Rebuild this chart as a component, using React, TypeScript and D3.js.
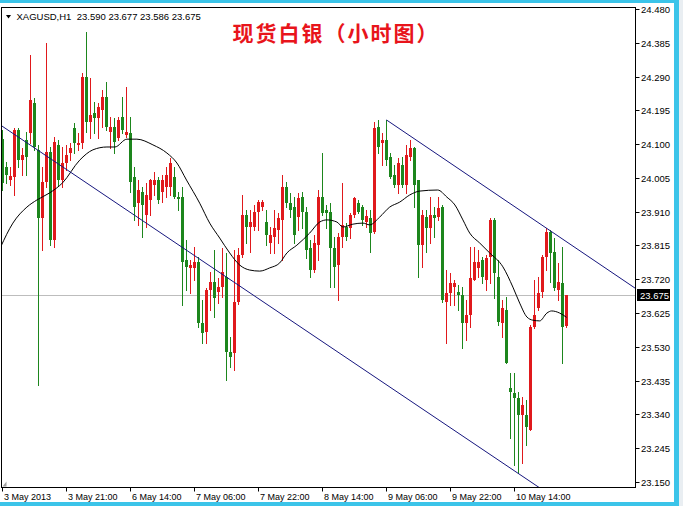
import React from "react";
import * as d3 from "d3";

const W = 683;
const H = 506;

// XAGUSD H1 candles (bar index 0 = 3 May 2013 05:00)
const barOpen = [
  24.114, 24.036, 23.999, 24.008, 24.140, 24.055, 24.112, 24.131, 24.216, 24.083,
  23.892, 23.993, 24.078, 23.830, 24.098, 23.999, 24.047, 24.075, 24.145, 24.098,
  24.103, 24.289, 24.162, 24.188, 24.173, 24.196, 24.233, 24.134, 24.148, 24.117,
  24.176, 24.126, 24.131, 24.008, 23.934, 23.965, 23.901, 23.943, 23.985, 23.999,
  23.965, 23.979, 23.979, 24.008, 23.951, 23.951, 23.774, 23.752, 23.752, 23.769,
  23.597, 23.572, 23.690, 23.712, 23.684, 23.698, 23.726, 23.515, 23.513, 23.656,
  23.788, 23.901, 23.867, 23.867, 23.909, 23.923, 23.881, 23.822, 23.839, 23.859,
  23.887, 23.979, 23.934, 23.923, 23.895, 23.951, 23.909, 23.808, 23.746, 23.816,
  23.951, 23.915, 23.909, 23.808, 23.760, 23.839, 23.867, 23.864, 23.901, 23.934,
  23.923, 23.881, 23.892, 23.853, 24.148, 24.103, 24.112, 24.064, 24.013, 23.985,
  24.041, 23.985, 24.064, 24.089, 23.999, 23.816, 23.895, 23.864, 23.901, 23.895,
  23.923, 23.656, 23.681, 23.698, 23.684, 23.676, 23.597, 23.619, 23.718, 23.752,
  23.774, 23.718, 23.783, 23.887, 23.726, 23.597, 23.634, 23.414, 23.400, 23.386,
  23.338, 23.338, 23.296, 23.586, 23.639, 23.684, 23.783, 23.853, 23.797, 23.690,
  23.709, 23.590,
];
const barHigh = [
  24.140, 24.050, 24.036, 24.145, 24.145, 24.089, 24.134, 24.351, 24.230, 24.098,
  24.036, 24.384, 24.092, 24.120, 24.112, 24.092, 24.098, 24.103, 24.159, 24.131,
  24.300, 24.415, 24.286, 24.219, 24.216, 24.252, 24.275, 24.176, 24.173, 24.176,
  24.233, 24.261, 24.176, 24.036, 23.999, 23.979, 23.991, 24.003, 24.022, 24.008,
  24.013, 24.036, 24.061, 24.036, 23.965, 23.979, 23.830, 23.774, 23.811, 23.783,
  23.662, 23.695, 23.740, 23.802, 23.724, 23.808, 23.794, 23.558, 23.802, 23.808,
  23.957, 23.915, 23.915, 23.929, 23.943, 23.943, 23.915, 23.867, 23.915, 23.906,
  24.013, 23.993, 23.962, 23.951, 23.962, 23.965, 23.923, 23.830, 23.844, 23.971,
  24.075, 23.929, 23.934, 23.839, 23.850, 23.991, 23.878, 23.906, 23.951, 23.943,
  23.929, 23.915, 23.915, 24.162, 24.168, 24.131, 24.168, 24.075, 24.041, 24.061,
  24.064, 24.098, 24.112, 24.092, 23.999, 23.915, 23.915, 23.951, 23.923, 23.951,
  23.929, 23.746, 23.738, 23.718, 23.704, 23.698, 23.662, 23.811, 23.811, 23.802,
  23.783, 23.788, 23.892, 23.892, 23.774, 23.662, 23.670, 23.456, 23.456, 23.403,
  23.389, 23.380, 23.591, 23.718, 23.726, 23.788, 23.864, 23.859, 23.836, 23.766,
  23.811, 23.677,
];
const barLow = [
  23.971, 23.991, 23.985, 23.957, 24.036, 24.013, 24.013, 24.103, 24.083, 23.423,
  23.802, 23.979, 23.816, 23.811, 23.985, 23.979, 24.027, 24.055, 24.075, 24.083,
  24.089, 24.134, 24.117, 24.131, 24.117, 24.148, 24.140, 24.089, 24.075, 24.112,
  24.131, 24.120, 23.965, 23.887, 23.873, 23.839, 23.867, 23.901, 23.957, 23.934,
  23.937, 23.951, 23.957, 23.949, 23.915, 23.648, 23.690, 23.681, 23.718, 23.586,
  23.541, 23.541, 23.634, 23.614, 23.653, 23.670, 23.437, 23.473, 23.465, 23.650,
  23.783, 23.822, 23.797, 23.859, 23.859, 23.915, 23.816, 23.794, 23.794, 23.822,
  23.774, 23.923, 23.895, 23.822, 23.859, 23.864, 23.780, 23.726, 23.740, 23.774,
  23.901, 23.864, 23.698, 23.698, 23.662, 23.811, 23.830, 23.836, 23.895, 23.906,
  23.873, 23.867, 23.797, 23.850, 24.075, 24.041, 24.041, 24.005, 23.979, 23.962,
  23.979, 23.962, 24.055, 23.923, 23.726, 23.754, 23.797, 23.822, 23.839, 23.887,
  23.656, 23.541, 23.648, 23.648, 23.634, 23.527, 23.549, 23.586, 23.718, 23.726,
  23.709, 23.690, 23.709, 23.667, 23.591, 23.558, 23.485, 23.274, 23.198, 23.175,
  23.204, 23.254, 23.296, 23.583, 23.634, 23.670, 23.746, 23.712, 23.690, 23.662,
  23.485, 23.586,
];
const barClose = [
  23.991, 24.013, 24.010, 24.140, 24.055, 24.069, 24.064, 24.224, 24.092, 23.892,
  23.993, 24.078, 23.830, 24.106, 23.999, 24.047, 24.069, 24.089, 24.103, 24.103,
  24.289, 24.162, 24.182, 24.173, 24.204, 24.233, 24.148, 24.148, 24.106, 24.168,
  24.140, 24.134, 23.993, 23.923, 23.971, 23.929, 23.957, 23.999, 23.999, 23.943,
  23.999, 24.013, 24.047, 23.951, 23.946, 23.769, 23.754, 23.760, 23.769, 23.597,
  23.569, 23.690, 23.712, 23.667, 23.698, 23.740, 23.515, 23.501, 23.656, 23.788,
  23.901, 23.867, 23.881, 23.909, 23.937, 23.937, 23.844, 23.844, 23.864, 23.892,
  23.979, 23.934, 23.915, 23.844, 23.949, 23.909, 23.802, 23.746, 23.822, 23.951,
  23.906, 23.906, 23.808, 23.754, 23.839, 23.873, 23.839, 23.901, 23.949, 23.909,
  23.887, 23.898, 23.850, 24.145, 24.092, 24.112, 24.055, 24.008, 23.985, 24.047,
  23.985, 24.069, 24.089, 23.985, 23.816, 23.901, 23.864, 23.901, 23.892, 23.920,
  23.662, 23.681, 23.709, 23.709, 23.676, 23.597, 23.619, 23.724, 23.769, 23.769,
  23.726, 23.780, 23.887, 23.738, 23.600, 23.639, 23.485, 23.403, 23.386, 23.338,
  23.366, 23.305, 23.586, 23.619, 23.681, 23.783, 23.853, 23.794, 23.695, 23.712,
  23.586, 23.675,
];

// Moving average, sampled along the bars
const maBars = [
  -0.5, 2.6, 6.1, 8.6, 11.8, 15, 19.3, 22.6, 26.1, 28.1, 31.1, 33.6, 37.6, 41.1,
  43.6, 46, 49.3, 51.8, 54.3, 56.8, 59.3, 61.8, 64.3, 66.8, 69.3, 71.1, 73.6,
  76.8, 79.3, 81.1, 83.6, 85.1, 87.6, 90.1, 91.8, 94.3, 96.8, 99.3, 101.8, 104.3,
  108.8, 111.1, 113.1, 115.1, 116.8, 119.3, 121.8, 125.1, 127.6, 129.3, 131.1,
  132.6, 134.3, 136.1, 137.3, 139.3, 141,
];
const maValues = [
  23.810, 23.878, 23.923, 23.943, 23.963, 23.991, 24.055, 24.084, 24.092, 24.092,
  24.114, 24.114, 24.098, 24.075, 24.047, 23.999, 23.934, 23.878, 23.836, 23.794,
  23.760, 23.746, 23.743, 23.752, 23.766, 23.794, 23.816, 23.850, 23.881, 23.887,
  23.881, 23.867, 23.875, 23.878, 23.873, 23.895, 23.923, 23.937, 23.957, 23.968,
  23.971, 23.951, 23.929, 23.887, 23.850, 23.822, 23.794, 23.755, 23.698, 23.653,
  23.614, 23.605, 23.603, 23.625, 23.631, 23.625, 23.613,
];

// Channel lines: [startBar, startPrice, endBar, endPrice]
const channelLower = [-2, 24.165, 160, 22.939];
const channelUpper = [96, 24.168, 160, 23.681];

const priceTicks = [
  24.48, 24.385, 24.29, 24.195, 24.1, 24.005, 23.91, 23.815, 23.72, 23.625,
  23.53, 23.435, 23.34, 23.245, 23.15,
];
const timeLabels = [
  "3 May 2013", "3 May 21:00", "6 May 14:00", "7 May 06:00", "7 May 22:00",
  "8 May 14:00", "9 May 06:00", "9 May 22:00", "10 May 14:00",
];
const timeLabelBars = [0, 16, 32, 48, 64, 80, 96, 112, 128];

const symbolName = "XAGUSD,H1";
const lastBar = { open: 23.59, high: 23.677, low: 23.586, close: 23.675 };
const chartTitle = "现货白银（小时图）";

const UP = "#e0191c";
const DOWN = "#1d861d";
const CHANNEL = "#16167e";
const FONT = "'Liberation Sans', Arial, sans-serif";

export default function App() {
  const plot = { left: 1.5, right: 635.5, top: 7.5, bottom: 487.5 };
  const x = d3.scaleLinear().domain([0, 141]).range([2.5, 566.5]);
  const y = d3.scaleLinear().domain([23.15, 24.48]).range([482, 9]);

  const bars = barOpen.map((o, i) => ({
    i,
    o,
    h: barHigh[i],
    l: barLow[i],
    c: barClose[i],
  }));

  const maLine = d3
    .line<number>()
    .x((_, k) => x(maBars[k]))
    .y((v) => y(v))
    .curve(d3.curveMonotoneX);

  const seg = (s: number[]) => ({
    x1: x(s[0]),
    y1: y(s[1]),
    x2: x(s[2]),
    y2: y(s[3]),
  });
  const lo = seg(channelLower);
  const up = seg(channelUpper);

  const fmt = d3.format(".3f");
  const lastY = Math.round(y(lastBar.close)) + 0.5;

  return (
    <svg
      width={W}
      height={H}
      style={{ position: "absolute", left: 0, top: 0, background: "#fff" }}
    >
      <defs>
        <clipPath id="plotClip">
          <rect x={plot.left} y={plot.top} width={plot.right - plot.left} height={plot.bottom - plot.top} />
        </clipPath>
        <clipPath id="axisClip">
          <rect x={plot.right} y={7} width={W - plot.right} height={H - 7} />
        </clipPath>
      </defs>

      <rect x={0} y={0} width={W} height={H} fill="#ffffff" />

      <g clipPath="url(#plotClip)">
        {/* current price level */}
        <line x1={plot.left} x2={plot.right} y1={lastY} y2={lastY} stroke="#bdbdbd" strokeWidth={1} />

        {/* candles */}
        <g shapeRendering="crispEdges">
          {bars.map((b) => {
            const col = b.c >= b.o ? UP : DOWN;
            const cx = x(b.i);
            const top = Math.round(y(Math.max(b.o, b.c)));
            const bot = Math.round(y(Math.min(b.o, b.c)));
            return (
              <g key={b.i}>
                <line x1={cx} x2={cx} y1={Math.round(y(b.h))} y2={Math.round(y(b.l)) + 1} stroke={col} strokeWidth={1} />
                <rect x={cx - 1.5} y={top} width={3} height={Math.max(1, bot - top)} fill={col} />
              </g>
            );
          })}
        </g>

        {/* moving average */}
        <path d={maLine(maValues) || ""} fill="none" stroke="#000" strokeWidth={1} />

        {/* channel */}
        <line {...lo} stroke={CHANNEL} strokeWidth={1} />
        <line {...up} stroke={CHANNEL} strokeWidth={1} />
      </g>

      {/* plot frame */}
      <rect
        x={plot.left}
        y={plot.top}
        width={plot.right - plot.left}
        height={plot.bottom - plot.top}
        fill="none"
        stroke="#000"
        strokeWidth={1}
        shapeRendering="crispEdges"
      />
      <path d={`M${plot.left + 1},${plot.bottom - 1} l4,-5 l0,5 z`} fill="#a0a0a0" />

      {/* price axis */}
      <g clipPath="url(#axisClip)" fontFamily={FONT} fontSize={9.5} fill="#000">
        {priceTicks.map((p) => {
            const ty = Math.round(y(p)) + 0.5;
            return (
              <g key={p}>
                <line x1={plot.right} x2={plot.right + 4} y1={ty} y2={ty} stroke="#000" />
                <text x={641} y={ty} dy="0.35em">
                  {fmt(p)}
                </text>
              </g>
            );
          })}
        <rect x={637} y={lastY - 6.5} width={33} height={12} fill="#000" />
        <text x={640} y={lastY} dy="0.35em" fill="#fff">
          {fmt(lastBar.close)}
        </text>
      </g>

      {/* time axis */}
      <g fontFamily={FONT} fontSize={9} fill="#000">
        {timeLabels.map((t, k) => {
          const tx = Math.round(x(timeLabelBars[k])) - 0.5;
          return (
            <g key={t}>
              <line x1={tx} x2={tx} y1={plot.bottom} y2={plot.bottom + 4} stroke="#000" />
              <text x={tx + 1.5} y={500}>
                {t}
              </text>
            </g>
          );
        })}
      </g>

      {/* header */}
      <path d="M6,15 L11,15 L8.5,18.5 Z" fill="#000" />
      <text x={16.5} y={19.5} fontFamily={FONT} fontSize={9.5} fill="#000" style={{ whiteSpace: "pre" }}>
        {`${symbolName}  ${fmt(lastBar.open)} ${fmt(lastBar.high)} ${fmt(lastBar.low)} ${fmt(lastBar.close)}`}
      </text>

      {/* title */}
      <text
        x={336}
        y={41}
        textAnchor="middle"
        fontFamily="'Noto Sans CJK SC', sans-serif"
        fontWeight={700}
        fontSize={21}
        letterSpacing={2}
        fill="#e8141b"
      >
        {chartTitle}
      </text>

      {/* window border */}
      <rect x={0} y={0} width={W} height={3} fill="#3bc4e9" />
      <rect x={674} y={0} width={5} height={H} fill="#3bc4e9" />
      <rect x={0} y={502} width={W} height={4} fill="#3bc4e9" />
      <rect x={679} y={0} width={4} height={H} fill="#e9eef2" />
    </svg>
  );
}
